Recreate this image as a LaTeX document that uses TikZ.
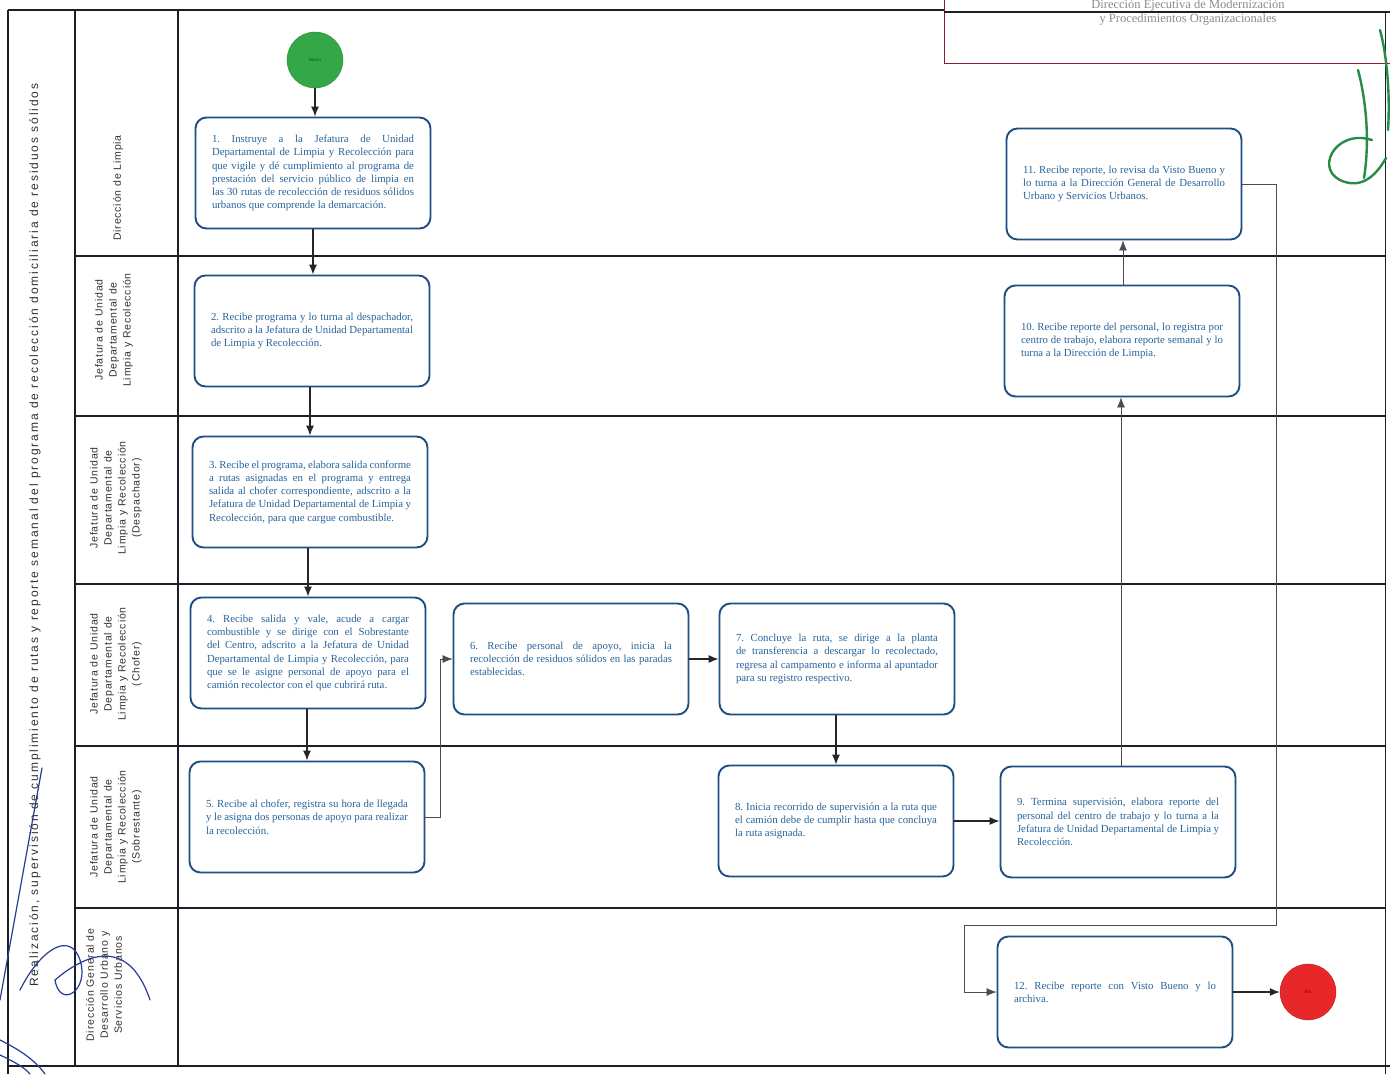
\documentclass[tikz,border=0pt]{standalone}
\usepackage{fontspec}
\usetikzlibrary{arrows.meta,calc}
\newfontfamily\boxfont{Liberation Serif}
\newfontfamily\lanefont[LetterSpace=8]{Liberation Sans}
\newfontfamily\titlefont[LetterSpace=16]{Liberation Sans}
\newfontfamily\headfont{Liberation Serif}
\definecolor{boxblue}{RGB}{30,78,132}
\definecolor{txtblue}{RGB}{40,100,155}
\definecolor{frame}{RGB}{30,30,40}
\definecolor{startgreen}{RGB}{52,168,72}
\definecolor{endred}{RGB}{232,40,40}
\definecolor{headred}{RGB}{140,30,50}
\definecolor{inkgreen}{RGB}{40,140,70}
\definecolor{inkblue}{RGB}{40,60,150}
\newcommand{\boxtext}{\boxfont\fontsize{10.8}{13.3}\selectfont\frenchspacing\hyphenpenalty=10000\exhyphenpenalty=10000\tolerance=10000\emergencystretch=20pt}
\tikzset{
  proc/.style={draw=boxblue, line width=1.9pt, rounded corners=11pt, fill=white,
    minimum width=235pt, minimum height=111pt, text width=202pt, align=justify,
    inner sep=0pt, text=txtblue, font=\boxtext},
  lanelabel/.style={rotate=90, align=center, text=black!80,
    font=\lanefont\fontsize{10.5}{14}\selectfont},
  flow/.style={-{Latex[length=10pt,width=8pt]}, line width=1.1pt, draw=black!85},
  thinflow/.style={-{Latex[length=10pt,width=8pt]}, line width=0.6pt, draw=black!70},
  laneline/.style={line width=1.3pt, draw=frame},
}
\begin{document}
\begin{tikzpicture}[x=1pt,y=-1pt]
\useasboundingbox (0,0) rectangle (1390,1074);
\fill[white] (0,0) rectangle (1390,1074);
% header box
\draw[headred, line width=1pt] (944,-5) -- (944,63) -- (1395,63);
\node[text=black!45, font=\headfont\fontsize{12.5}{14}\selectfont, inner sep=0pt] (h1) at (1188,5) {Dirección Ejecutiva de Modernización};
\node[text=black!45, font=\headfont\fontsize{12.5}{14}\selectfont, inner sep=0pt] (h2) at (1188,20) {y Procedimientos Organizacionales};
% frame
\draw[laneline] (8,10) -- (944,10);
\draw[laneline] (944,12) -- (1390,12);
\draw[laneline] (8,10) -- (8,1074);
\draw[laneline] (75,10) -- (75,1066);
\draw[laneline] (178,10) -- (178,1066);
\draw[laneline] (8,1066) -- (1390,1066);
\draw[line width=1pt, draw=frame] (1385,12) -- (1385,1074);
\foreach \yy in {256,416,584,746,908} \draw[laneline] (75,\yy) -- (1385,\yy);
% title
\node[rotate=90, text=black!80, font=\titlefont\fontsize{12}{14}\selectfont] (title) at (35,535)
 {Realización, supervisión de cumplimiento de rutas y reporte semanal del programa de recolección domiciliaria de residuos sólidos};
% lane labels
\node[lanelabel] (l1) at (118,188) {Dirección de Limpia};
\node[lanelabel] (l2) at (114,330) {Jefatura de Unidad\\Departamental de\\Limpia y Recolección};
\node[lanelabel] (l3) at (116,498) {Jefatura de Unidad\\Departamental de\\Limpia y Recolección\\(Despachador)};
\node[lanelabel] (l4) at (116,664) {Jefatura de Unidad\\Departamental de\\Limpia y Recolección\\(Chofer)};
\node[lanelabel] (l5) at (116,827) {Jefatura de Unidad\\Departamental de\\Limpia y Recolección\\(Sobrestante)};
\node[lanelabel] (l6) at (104,985) {Dirección General de\\Desarrollo Urbano y\\Servicios Urbanos};
% start / end
\node[circle, minimum size=56pt, inner sep=0pt, fill=startgreen, draw=startgreen!80!black,
  text=green!30!black, font=\boxfont\fontsize{5}{6}\selectfont] (start) at (315,60) {Inicio};
\node[circle, minimum size=56pt, inner sep=0pt, fill=endred, draw=endred!80!black,
  text=red!40!black, font=\boxfont\fontsize{5}{6}\selectfont] (end) at (1308,992) {Fin};
% process boxes
\node[proc] (b1) at (313,173) {1.~Instruye a la Jefatura de Unidad Departamental de Limpia y Recolección para que vigile y dé cumplimiento al programa de prestación del servicio público de limpia en las 30 rutas de recolección de residuos sólidos urbanos que comprende la demarcación.};
\node[proc] (b2) at (312,331) {2.~Recibe programa y lo turna al despachador, adscrito a la Jefatura de Unidad Departamental de Limpia y Recolección.};
\node[proc] (b3) at (310,492) {3.~Recibe el programa, elabora salida conforme a rutas asignadas en el programa y entrega salida al chofer correspondiente, adscrito a la Jefatura de Unidad Departamental de Limpia y Recolección, para que cargue combustible.};
\node[proc] (b4) at (308,653) {4.~Recibe salida y vale, acude a cargar combustible y se dirige con el Sobrestante del Centro, adscrito a la Jefatura de Unidad Departamental de Limpia y Recolección, para que se le asigne personal de apoyo para el camión recolector con el que cubrirá ruta.};
\node[proc] (b5) at (307,817) {5.~Recibe al chofer, registra su hora de llegada y le asigna dos personas de apoyo para realizar la recolección.};
\node[proc] (b6) at (571,659) {6.~Recibe personal de apoyo, inicia la recolección de residuos sólidos en las paradas establecidas.};
\node[proc] (b7) at (837,659) {7.~Concluye la ruta, se dirige a la planta de transferencia a descargar lo recolectado, regresa al campamento e informa al apuntador para su registro respectivo.};
\node[proc] (b8) at (836,821) {8.~Inicia recorrido de supervisión a la ruta que el camión debe de cumplir hasta que concluya la ruta asignada.};
\node[proc] (b9) at (1118,822) {9.~Termina supervisión, elabora reporte del personal del centro de trabajo y lo turna a la Jefatura de Unidad Departamental de Limpia y Recolección.};
\node[proc] (b10) at (1122,341) {10.~Recibe reporte del personal, lo registra por centro de trabajo, elabora reporte semanal y lo turna a la Dirección de Limpia.};
\node[proc] (b11) at (1124,184) {11.~Recibe reporte, lo revisa da Visto Bueno y lo turna a la Dirección General de Desarrollo Urbano y Servicios Urbanos.};
\node[proc] (b12) at (1115,992) {12.~Recibe reporte con Visto Bueno y lo archiva.};
% connectors
\draw[flow] (start) -- (start |- b1.north);
\draw[flow] (b1.south) -- (b1.south |- b2.north);
\draw[flow] (b2.south -| b3) -- (b3.north);
\draw[flow] (b3.south -| b4) -- (b4.north);
\draw[flow] (b4.south -| b5) -- (b5.north);
\draw[thinflow] (b5.east) -- ++(15,0) |- (b6.west);
\draw[flow] (b6.east) -- (b7.west);
\draw[flow] (b7.south -| b8) -- (b8.north);
\draw[flow] (b8.east) -- (b8.east -| b9.west);
\draw[thinflow] (b9.north -| 1121,0) -- (b10.south -| 1121,0);
\draw[thinflow] (b10.north -| 1123,0) -- (b11.south -| 1123,0);
\coordinate (k1) at (1276,925);
\coordinate (k2) at (964,925);
\draw[thinflow] (b11.east) -| (k1) -- (k2) |- (b12.west);
\draw[flow] (b12.east) -- (end);
% handwritten marks
\draw[inkgreen, line width=2.4pt, line cap=round] (1372,140) .. controls (1335,128) and (1312,172) .. (1345,182) .. controls (1365,188) and (1378,172) .. (1386,158);
\draw[inkgreen, line width=2.4pt, line cap=round] (1358,70) .. controls (1366,100) and (1370,140) .. (1364,178);
\draw[inkgreen, line width=2.4pt, line cap=round] (1380,30) .. controls (1388,60) and (1390,100) .. (1388,130);
\draw[inkblue, line width=1.2pt, line cap=round] (42,768) -- (0,1000);
\draw[inkblue, line width=1.2pt, line cap=round] (20,990) .. controls (40,950) and (70,930) .. (80,960) .. controls (90,990) and (60,1010) .. (55,980) .. controls (90,950) and (130,940) .. (150,1000);
\draw[inkblue, line width=1.2pt, line cap=round] (0,1040) .. controls (20,1050) and (35,1060) .. (45,1074);
\draw[inkblue, line width=1.2pt, line cap=round] (0,1055) .. controls (15,1062) and (25,1068) .. (30,1074);
\end{tikzpicture}
\end{document}
